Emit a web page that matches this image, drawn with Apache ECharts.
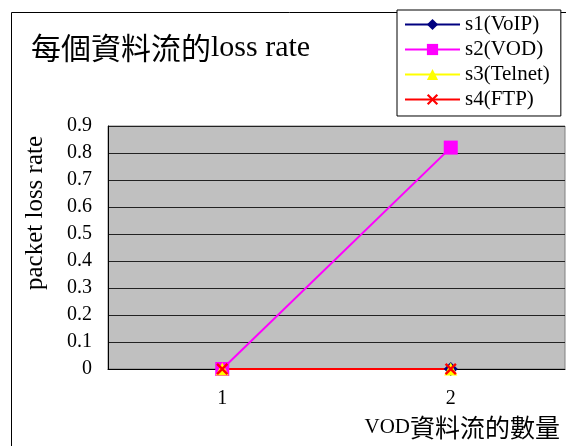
<!DOCTYPE html>
<html>
<head>
<meta charset="utf-8">
<script src="https://cdn.jsdelivr.net/npm/echarts@6/dist/echarts.min.js"></script>
<style>
  html,body{margin:0;padding:0;background:#fff;}
  #chart{width:566px;height:446px;}
</style>
</head>
<body>
<div id="chart"></div>
<script>
const categories = ['1', '2']
const s1 = [0, 0]
const s2 = [0, 0.82]
const s3 = [0, 0]
const s4 = [0, 0]
const yTicks = {min: 0, max: 0.9, interval: 0.1}

const serif = '"Liberation Serif", "Noto Sans CJK TC", serif'
// X 形標記
const crossPath = 'path://M0,1.4L1.4,0L5,3.6L8.6,0L10,1.4L6.4,5L10,8.6L8.6,10L5,6.4L1.4,10L0,8.6L3.6,5Z'

function line(name, data, color, symbol, size){
  return {
    name, type:'line', data,
    symbol, symbolSize:size,
    lineStyle:{color, width:2},
    itemStyle:{color},
    animation:false
  }
}

const chart = echarts.init(document.getElementById('chart'))
chart.setOption({
  backgroundColor:'#fff',
  title:{
    text:'{c|每個資料流的}{l|loss rate}',
    left:26, top:28,
    textStyle:{
      fontWeight:'normal',
      rich:{
        c:{fontFamily:'"Noto Sans CJK TC"', fontSize:30, fontWeight:'normal', color:'#000'},
        l:{fontFamily:'"Liberation Serif"', fontSize:30, fontWeight:'normal', color:'#000'}
      }
    }
  },
  legend:{
    orient:'vertical',
    left:397, top:10,
    padding:[4,11,6,7],
    borderColor:'#000', borderWidth:1,
    backgroundColor:'#fff',
    itemWidth:55, itemHeight:14, itemGap:4,
    textStyle:{fontFamily:serif, fontSize:21, color:'#000'},
    data:['s1(VoIP)','s2(VOD)','s3(Telnet)','s4(FTP)']
  },
  grid:{
    left:108, top:126, right:1, bottom:77,
    show:true, backgroundColor:'#c0c0c0', borderColor:'#808080', borderWidth:1
  },
  xAxis:{
    type:'category',
    data:categories,
    boundaryGap:true,
    axisLine:{lineStyle:{color:'#000', width:1}},
    axisTick:{inside:true, length:5, lineStyle:{color:'#000'}},
    axisLabel:{fontFamily:serif, fontSize:20, color:'#000', margin:20}
  },
  yAxis:{
    type:'value',
    min:yTicks.min, max:yTicks.max, interval:yTicks.interval,
    axisLine:{show:true, lineStyle:{color:'#000'}},
    axisTick:{show:false},
    splitLine:{lineStyle:{color:'#222', width:1}},
    axisLabel:{fontFamily:serif, fontSize:20, color:'#000', margin:16,
      formatter:v => +v.toFixed(1) + ''}
  },
  series:[
    line('s1(VoIP)', s1, '#000080', 'diamond', 14),
    line('s2(VOD)', s2, '#ff00ff', 'rect', 14),
    line('s3(Telnet)', s3, '#ffff00', 'triangle', 13),
    line('s4(FTP)', s4, '#ff0000', crossPath, 12)
  ],
  graphic:[
    {type:'rect', left:9, top:10, shape:{width:600, height:500},
      style:{fill:'none', stroke:'#000', lineWidth:1}, z:-1, silent:true},
    {type:'text', x:35, y:213, rotation:Math.PI/2,
      style:{text:'packet loss rate', fontFamily:serif, fontSize:25, fill:'#000',
        align:'center', verticalAlign:'middle'}},
    {type:'text', x:560, y:427,
      style:{text:'{a|VOD}{b|資料流的數量}', align:'right', verticalAlign:'middle',
        rich:{
          a:{fontFamily:'"Liberation Serif"', fontSize:21, fill:'#000'},
          b:{fontFamily:'"Noto Sans CJK TC"', fontSize:25, fill:'#000'}
        }}}
  ]
})
</script>
</body>
</html>
